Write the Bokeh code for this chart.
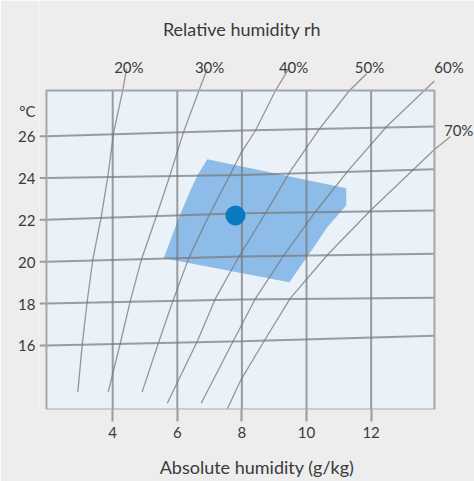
from bokeh.plotting import figure
from bokeh.models import Range1d, FixedTicker
from bokeh.embed import file_html
from bokeh.resources import INLINE
from bokeh.core.properties import value

# ---------------- data ----------------
x_ticks = [4, 6, 8, 10, 12]
t_ticks = [16, 18, 20, 22, 24, 26]

# isotherms: chart height at left edge, at x=8 and at right edge
iso_x = [1.95, 8.0, 13.96]
iso_left = [16, 18, 20, 22, 24, 26]
iso_mid = [16.20, 18.20, 20.25, 22.31, 24.14, 26.27]
iso_right = [16.46, 18.28, 20.38, 22.45, 24.42, 26.46]

# relative humidity curves (absolute humidity, chart height)
rh_labels = ["20%", "30%", "40%", "50%", "60%", "70%"]
rh20_x = [2.92, 3.06, 3.21, 3.38, 3.64, 3.85, 4.03, 4.31, 4.43]
rh20_y = [13.77, 16.09, 18.10, 20.06, 22.11, 24.07, 26.18, 28.18, 29.22]
rh30_x = [3.86, 4.24, 4.55, 4.89, 5.36, 5.76, 6.19, 6.67, 6.93]
rh30_y = [13.77, 16.14, 18.15, 20.11, 22.21, 24.07, 26.18, 28.18, 29.22]
rh40_x = [4.91, 5.42, 5.88, 6.35, 6.98, 7.65, 7.96, 8.42, 9.04, 9.48]
rh40_y = [13.77, 16.14, 18.20, 20.16, 22.21, 24.20, 25.16, 26.27, 28.18, 29.30]
rh50_x = [5.69, 6.63, 7.18, 7.89, 8.75, 9.50, 10.40, 11.33, 11.86]
rh50_y = [13.24, 16.24, 18.24, 20.20, 22.37, 24.33, 26.35, 28.18, 28.98]
rh60_x = [6.74, 7.74, 8.42, 9.25, 10.28, 11.31, 12.48, 13.65, 13.96]
rh60_y = [13.24, 16.24, 18.24, 20.20, 22.40, 24.39, 26.46, 28.18, 28.63]
rh70_x = [7.54, 7.96, 8.73, 9.50, 10.68, 11.98, 13.96, 14.46]
rh70_y = [12.94, 14.33, 16.32, 18.26, 20.38, 22.45, 25.36, 25.98]

# comfort zone outline
zone_x = [6.93, 11.23, 11.23, 10.64, 10.23, 9.47, 5.58, 5.69, 6.05, 6.36, 6.62]
zone_y = [24.89, 23.51, 22.69, 21.65, 20.70, 19.02, 20.17, 20.62, 22.13, 23.25, 24.12]

# current state point
point_x = [7.80]
point_y = [22.21]

# ---------------- layout constants ----------------
XL = 1.734               # left edge of drawing area (tick start)
X0, X1 = 1.95, 13.96     # plot box
Y0, Y1 = 12.94, 28.18
UNIT_POS = 27.18         # where the unit label sits on the y axis
FONT = value("Lato")
TXT = "#3a3a3a"
GRID = "#777777"

p = figure(width=474, height=481,
           x_range=Range1d(XL, 15.20), y_range=Range1d(Y0, 32.48),
           output_backend="svg", toolbar_location=None, title=None,
           min_border_left=39, min_border_right=0,
           min_border_top=0, min_border_bottom=72)
p.background_fill_color = "#EDEDED"
p.border_fill_color = "#EDEDED"
p.outline_line_color = None
p.xgrid.visible = False
p.ygrid.visible = False

# plot box
p.quad(left=[X0], right=[X1], bottom=[Y0], top=[Y1],
       fill_color="#EAF1F8", line_color=None)

# comfort zone
p.patch(zone_x, zone_y, fill_color="#8CBCE7", line_color=None)

# vertical grid lines
p.segment(x0=x_ticks, y0=[Y0] * len(x_ticks), x1=x_ticks, y1=[Y1] * len(x_ticks),
          line_color=GRID, line_alpha=0.7, line_width=2)

# isotherms (with their short tick to the left of the box)
iso_xs = [[XL] + iso_x for _ in iso_left]
iso_ys = [[a, a, b, c] for a, b, c in zip(iso_left, iso_mid, iso_right)]
p.multi_line(iso_xs, iso_ys, line_color=GRID, line_alpha=0.7, line_width=2)

# rh curves
rh_xs = [rh20_x, rh30_x, rh40_x, rh50_x, rh60_x, rh70_x]
rh_ys = [rh20_y, rh30_y, rh40_y, rh50_y, rh60_y, rh70_y]
p.multi_line(rh_xs, rh_ys, line_color=GRID, line_alpha=0.75, line_width=1.3,
             line_join="round")

# box outline
p.quad(left=[X0], right=[X1], bottom=[Y0], top=[Y1],
       fill_color=None, line_color="#A6A6A6", line_width=2)

# state point
p.scatter(point_x, point_y, size=20, fill_color="#0A79C0", line_color=None)

# rh labels
rh_label_x = [4.50, 7.00, 9.60, 11.95, 14.41, 14.71]
rh_label_y = [29.30, 29.30, 29.30, 29.30, 29.30, 26.30]
p.text(x=rh_label_x, y=rh_label_y, text=rh_labels, text_font=FONT,
       text_font_size="15px", text_align="center", text_baseline="alphabetic",
       text_color=TXT)

# top title
p.text(x=[8.0], y=[31.13], text=["Relative humidity rh"], text_font=FONT,
       text_font_size="18px", text_align="center", text_baseline="alphabetic",
       text_color=TXT)

# axes
xa = p.xaxis[0]
xa.ticker = FixedTicker(ticks=x_ticks)
xa.axis_label = "Absolute humidity (g/kg)"
xa.axis_label_text_font = "Lato"
xa.axis_label_text_font_size = "18px"
xa.axis_label_text_font_style = "normal"
xa.axis_label_text_color = TXT
xa.axis_label_standoff = 15
xa.axis_line_color = None
xa.major_tick_out = 12
xa.major_tick_in = 0
xa.major_tick_line_color = GRID
xa.major_tick_line_alpha = 0.7
xa.major_tick_line_width = 2
xa.minor_tick_line_color = None
xa.major_label_text_font = "Lato"
xa.major_label_text_font_size = "15px"
xa.major_label_text_color = TXT
xa.major_label_standoff = 5

ya = p.yaxis[0]
ya.ticker = FixedTicker(ticks=t_ticks + [UNIT_POS])
ya.major_label_overrides = {UNIT_POS: "°C"}
ya.axis_line_color = None
ya.major_tick_out = 0
ya.major_tick_in = 0
ya.major_tick_line_color = None
ya.minor_tick_line_color = None
ya.major_label_text_font = "Lato"
ya.major_label_text_font_size = "15px"
ya.major_label_text_color = TXT
ya.major_label_standoff = 4

open("out.html", "w").write(file_html(p, INLINE))
